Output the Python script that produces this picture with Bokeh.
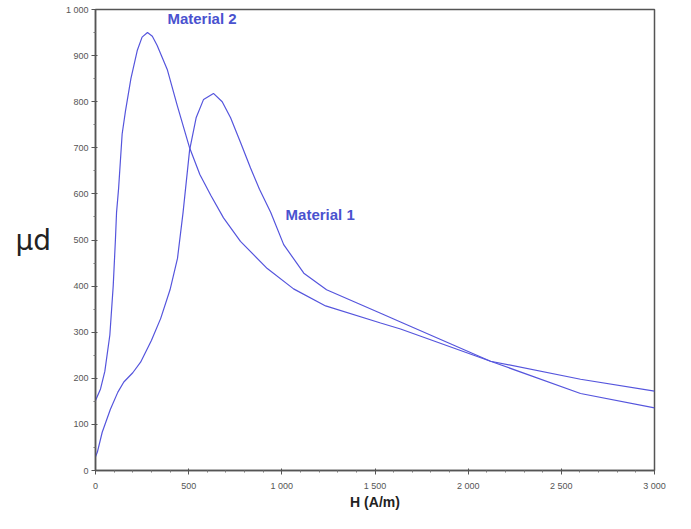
from bokeh.plotting import figure
from bokeh.models import FixedTicker, Label, Range1d
from bokeh.embed import file_html
from bokeh.resources import INLINE

# Material 1 (peak ~ 633 A/m)
h1 = [0, 10, 36, 80, 120, 152, 200, 242, 300, 350, 400, 440, 470, 505, 540, 580, 633,
      680, 725, 780, 832, 880, 940, 1010, 1118, 1240, 1530, 1637, 2120, 2603, 3000]
mu1 = [30, 40, 83, 133, 170, 192, 212, 235, 282, 330, 392, 460, 560, 695, 765, 805, 818,
       800, 765, 710, 656, 610, 560, 490, 428, 392, 341, 322, 237, 167, 136]

# Material 2 (peak ~ 279 A/m)
h2 = [0, 27, 50, 77, 95, 107, 113, 124, 143, 161, 190, 224, 250, 279, 305, 331, 385, 440,
      505, 560, 620, 687, 778, 922, 1063, 1235, 1530, 1637, 2120, 2603, 3000]
mu2 = [152, 177, 215, 294, 400, 501, 560, 612, 730, 780, 850, 911, 940, 950, 942, 922, 870, 790,
       700, 642, 596, 548, 497, 438, 394, 357, 320, 307, 237, 198, 172]

x_ticks = [0, 500, 1000, 1500, 2000, 2500, 3000]
x_tick_labels = ["0", "500", "1 000", "1 500", "2 000", "2 500", "3 000"]
y_ticks = [0, 100, 200, 300, 400, 500, 600, 700, 800, 900, 1000]
y_tick_labels = ["0", "100", "200", "300", "400", "500", "600", "700", "800", "900", "1 000"]
series_names = ["Material 1", "Material 2"]

LINE = "#5555dd"
TEXT = "#4a52cf"

p = figure(width=691, height=529, output_backend="svg", toolbar_location=None,
           x_range=Range1d(0, 3000), y_range=Range1d(0, 1000),
           min_border_left=95, min_border_right=37, min_border_top=9, min_border_bottom=59)

p.line(h1, mu1, line_color=LINE, line_width=1.2)
p.line(h2, mu2, line_color=LINE, line_width=1.2)

p.add_layout(Label(x=386, y=980, text=series_names[1], text_font="Liberation Sans",
                   text_font_style="bold", text_font_size="15px", text_color=TEXT,
                   text_baseline="middle"))
p.add_layout(Label(x=1020, y=555, text=series_names[0], text_font="Liberation Sans",
                   text_font_style="bold", text_font_size="15px", text_color=TEXT,
                   text_baseline="middle"))

p.xgrid.visible = False
p.ygrid.visible = False
p.background_fill_color = "white"
p.border_fill_color = "white"
p.outline_line_color = "#555555"
p.outline_line_width = 1.5

minor_x = [v for v in range(0, 3001, 100) if v % 500 != 0]
minor_y = [v for v in range(0, 1001, 50) if v % 100 != 0]
p.xaxis.ticker = FixedTicker(ticks=x_ticks, minor_ticks=minor_x)
p.yaxis.ticker = FixedTicker(ticks=y_ticks, minor_ticks=minor_y)
p.xaxis.major_label_overrides = {t: l for t, l in zip(x_ticks, x_tick_labels)}
p.yaxis.major_label_overrides = {t: l for t, l in zip(y_ticks, y_tick_labels)}

for ax in (p.xaxis, p.yaxis):
    ax.axis_line_color = "#555555"
    ax.axis_line_width = 1.5
    ax.major_tick_line_color = "#555555"
    ax.minor_tick_line_color = "#777777"
    ax.major_tick_in = 2
    ax.major_tick_out = 4
    ax.minor_tick_in = 0
    ax.minor_tick_out = 2
    ax.major_label_text_font = "Liberation Sans"
    ax.major_label_text_font_size = "9px"
    ax.major_label_text_color = "#555555"

p.xaxis.major_label_standoff = 6
p.yaxis.major_label_standoff = 3

p.xaxis.axis_label = "H (A/m)"
p.xaxis.axis_label_text_font = "Liberation Sans"
p.xaxis.axis_label_text_font_style = "bold"
p.xaxis.axis_label_text_font_size = "14px"
p.xaxis.axis_label_text_color = "#222222"
p.xaxis.axis_label_standoff = 0

p.yaxis.axis_label = "μd"
p.yaxis.axis_label_orientation = "horizontal"
p.yaxis.axis_label_text_font = "DejaVu Sans"
p.yaxis.axis_label_text_font_style = "normal"
p.yaxis.axis_label_text_font_size = "28px"
p.yaxis.axis_label_text_color = "#222222"
p.yaxis.axis_label_standoff = 12

open("out.html", "w").write(file_html(p, INLINE))
